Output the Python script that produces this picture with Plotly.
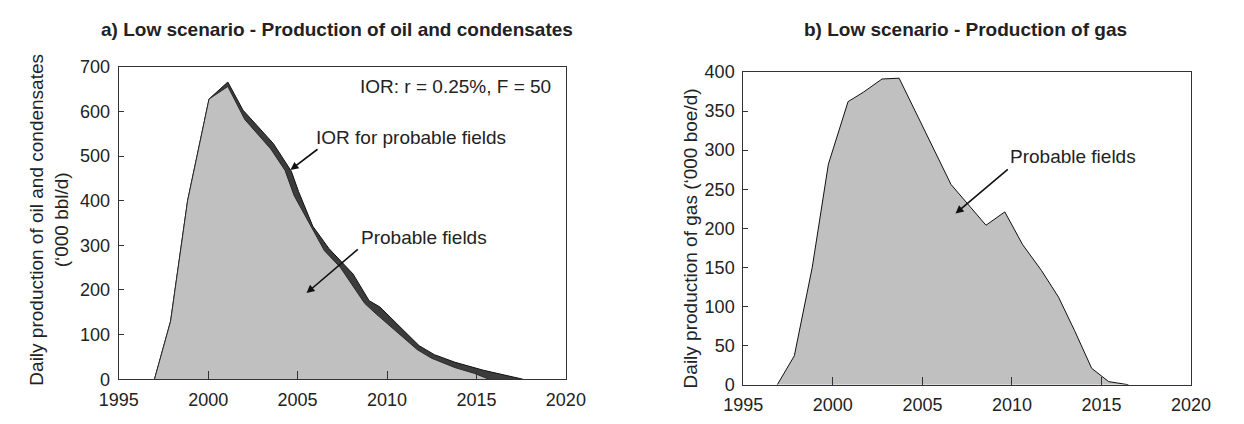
import plotly.graph_objects as go

# ---- Data ----
# a) Oil and condensates, '000 bbl/d
oil_total_years = [1997.0, 1997.9, 1998.85, 2000.05, 2001.1, 2001.95, 2003.65, 2004.65,
                   2005.05, 2005.85, 2006.75, 2008.1, 2009.0, 2009.6, 2011.8, 2012.65,
                   2013.8, 2015.4, 2017.6]
oil_total_values = [0, 130, 400, 628, 666, 603, 528, 466,
                    421, 343, 293, 236, 176, 162, 75, 55,
                    38, 20, 0]

oil_probable_years = [1997.0, 1997.9, 1998.85, 2000.05, 2001.1, 2002.05, 2003.5, 2004.3,
                      2004.8, 2006.5, 2007.4, 2008.75, 2009.4, 2011.7, 2012.5, 2013.8,
                      2014.9, 2015.7]
oil_probable_values = [0, 130, 400, 628, 656, 582, 516, 468,
                       412, 288, 250, 170, 146, 66, 47, 26,
                       13, 0]

# b) Gas, '000 boe/d
gas_years = [1996.9, 1997.85, 1998.85, 1999.75, 2000.85, 2001.7, 2002.75, 2003.7,
             2006.6, 2008.55, 2009.6, 2010.6, 2011.65, 2012.6, 2013.5, 2014.45,
             2015.4, 2016.5]
gas_values = [0, 37, 150, 282, 362, 374, 391, 392,
              256, 204, 221, 179, 146, 112, 69, 21,
              4, 0]

x_ticks = [1995, 2000, 2005, 2010, 2015, 2020]

FONT = "Liberation Sans, Arial, Helvetica, sans-serif"
TXT = "#222222"
AX = "#333333"
LIGHT = "#c0c0c0"
DARK = "#3c3c3c"

fig = go.Figure()

fig.add_trace(go.Scatter(x=oil_total_years, y=oil_total_values, mode="lines",
                         fill="tozeroy", fillcolor=DARK,
                         line=dict(color="#111111", width=1),
                         xaxis="x", yaxis="y", showlegend=False, hoverinfo="skip"))
fig.add_trace(go.Scatter(x=oil_probable_years, y=oil_probable_values, mode="lines",
                         fill="tozeroy", fillcolor=LIGHT,
                         line=dict(color="#2a2a2a", width=1),
                         xaxis="x", yaxis="y", showlegend=False, hoverinfo="skip"))
fig.add_trace(go.Scatter(x=gas_years, y=gas_values, mode="lines",
                         fill="tozeroy", fillcolor=LIGHT,
                         line=dict(color="#111111", width=1),
                         xaxis="x2", yaxis="y2", showlegend=False, hoverinfo="skip"))

W, H = 1244, 424

def px_x(p):
    return p / W

def px_y(p):
    return (H - p) / H

common_x = dict(range=[1995, 2020], tickvals=x_ticks, showgrid=False, zeroline=False,
                showline=True, mirror=True, linecolor=AX, linewidth=1,
                ticks="inside", ticklen=8, tickcolor=AX, tickwidth=1,
                tickfont=dict(size=18, color=TXT, family=FONT), ticklabelstandoff=4)
common_y = dict(showgrid=False, zeroline=False, showline=True, mirror=True,
                linecolor=AX, linewidth=1, ticks="inside", ticklen=5, tickcolor=AX,
                tickwidth=1, tickfont=dict(size=18, color=TXT, family=FONT),
                ticklabelstandoff=4)

fig.update_layout(
    width=W, height=H, margin=dict(l=0, r=0, t=0, b=0),
    paper_bgcolor="white", plot_bgcolor="white",
    font=dict(family=FONT, color=TXT),
    xaxis=dict(domain=[px_x(102), px_x(564)], anchor="y", **common_x),
    yaxis=dict(domain=[px_y(387.5), px_y(59.7)], anchor="x", range=[0, 700], dtick=100, **common_y),
    xaxis2=dict(domain=[px_x(747.3), px_x(1210)], anchor="y2", **common_x),
    yaxis2=dict(domain=[px_y(393.3), px_y(65)], anchor="x2", range=[0, 400], dtick=50, **common_y),
)

ann = []
# Panel titles
ann.append(dict(text="<b>a) Low scenario - Production of oil and condensates</b>",
                xref="paper", yref="paper", x=px_x(327.5), y=px_y(20),
                xanchor="center", yanchor="middle", showarrow=False,
                font=dict(size=19, color=TXT, family=FONT)))
ann.append(dict(text="<b>b) Low scenario - Production of gas</b>",
                xref="paper", yref="paper", x=px_x(976.5), y=px_y(20),
                xanchor="center", yanchor="middle", showarrow=False,
                font=dict(size=19, color=TXT, family=FONT)))
# Axis titles
ann.append(dict(text="Daily production of oil and condensates<br>(‘000 bbl/d)",
                xref="paper", yref="paper", x=px_x(30), y=px_y(220),
                xanchor="center", yanchor="middle", textangle=-90, showarrow=False,
                font=dict(size=19, color=TXT, family=FONT)))
ann.append(dict(text="Daily production of gas (‘000 boe/d)",
                xref="paper", yref="paper", x=px_x(693), y=px_y(240),
                xanchor="center", yanchor="middle", textangle=-90, showarrow=False,
                font=dict(size=19, color=TXT, family=FONT)))
# In-plot labels
ann.append(dict(text="IOR: r = 0.25%, F = 50", xref="x", yref="y", x=2019.3, y=655,
                xanchor="right", yanchor="middle", showarrow=False,
                font=dict(size=19, color=TXT, family=FONT)))
ann.append(dict(text="IOR for probable fields", xref="x", yref="y", x=2005.9, y=541,
                xanchor="left", yanchor="middle", showarrow=False,
                font=dict(size=19, color=TXT, family=FONT)))
ann.append(dict(text="Probable fields", xref="x", yref="y", x=2008.45, y=318,
                xanchor="left", yanchor="middle", showarrow=False,
                font=dict(size=19, color=TXT, family=FONT)))
ann.append(dict(text="Probable fields", xref="x2", yref="y2", x=2009.8, y=292,
                xanchor="left", yanchor="middle", showarrow=False,
                font=dict(size=19, color=TXT, family=FONT)))
# Arrows
arrow = dict(text="", showarrow=True, arrowhead=2, arrowsize=1, arrowwidth=1.6,
             arrowcolor="#111111", standoff=0, startstandoff=0)
ann.append(dict(xref="x", yref="y", axref="x", ayref="y",
                x=2004.6, y=469, ax=2006.2, ay=518, **arrow))
ann.append(dict(xref="x", yref="y", axref="x", ayref="y",
                x=2005.5, y=193, ax=2008.45, ay=294, **arrow))
ann.append(dict(xref="x2", yref="y2", axref="x2", ayref="y2",
                x=2006.85, y=219, ax=2009.85, ay=277, **arrow))

fig.update_layout(annotations=ann)

# Remove the browser's default page margin so figure pixels map 1:1 to the window.
fig.write_html(
    "out.html",
    config={"displayModeBar": False},
    post_script="document.body.style.margin='0';document.body.style.padding='0';"
                "document.documentElement.style.overflow='hidden';",
)
